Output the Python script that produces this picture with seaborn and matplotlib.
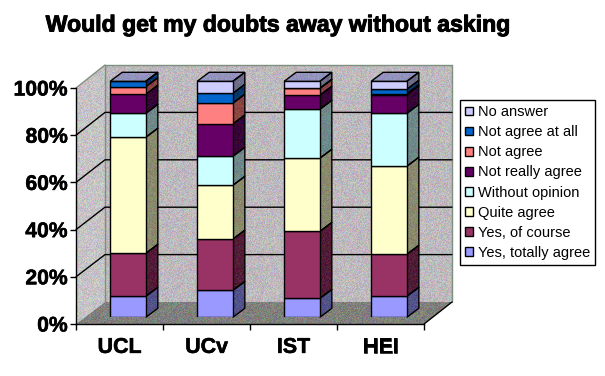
import numpy as np
import pandas as pd
import matplotlib
matplotlib.use("Agg")
import matplotlib.pyplot as plt
import matplotlib.patheffects as pe
from matplotlib.patches import Patch, Polygon
import seaborn as sns

schools = ["UCL", "UCv", "IST", "HEI"]
answers = ["Yes, totally agree", "Yes, of course", "Quite agree", "Without opinion",
           "Not really agree", "Not agree", "Not agree at all", "No answer"]
colors = ["#9999FF", "#993366", "#FFFFCC", "#CCFFFF", "#660066", "#FF8080", "#0066CC", "#CCCCFF"]

totally = [8.9, 11.4, 8.0, 8.9]
of_course = [18.2, 21.7, 28.4, 17.8]
quite = [49.2, 22.8, 31.0, 37.3]
no_opinion = [10.1, 12.3, 20.7, 22.4]
not_really = [8.1, 13.7, 6.0, 7.9]
not_agree = [3.2, 8.8, 2.9, 0.4]
not_at_all = [2.3, 4.2, 0.0, 1.9]
no_answer = [0.0, 5.1, 3.0, 3.4]
series = [totally, of_course, quite, no_opinion, not_really, not_agree, not_at_all, no_answer]

W, H = 605, 376
DX, DY = 12, 9  # depth of the bars in pixels


def box(x0, y0, x1, y1):
    return [x0 / W, 1 - y1 / H, (x1 - x0) / W, (y1 - y0) / H]


sns.set_theme(style="white")
plt.rcParams["font.family"] = ["Liberation Sans", "DejaVu Sans"]

fig = plt.figure(figsize=(W / 100, H / 100), dpi=100, facecolor="white")

# backdrop in pixel coordinates
bg = fig.add_axes([0, 0, 1, 1], zorder=0)
bg.axis("off")

# dither like the old 256 colour export
yy, xx = np.mgrid[0:H, 0:W]
speck = np.stack([np.sin(xx * a + yy * b) * 43758.5453 % 1
                  for a, b in [(12.9898, 78.233), (39.346, 11.135), (73.156, 52.235)]], axis=-1) - 0.5


def textured(ax, pts, rgb, amount=46, z=1):
    tex = np.clip(np.array(rgb, float) + speck * amount, 0, 255).astype(np.uint8)
    im = ax.imshow(tex, extent=(0, W, H, 0), interpolation="nearest", zorder=z, aspect="auto")
    poly = Polygon(pts, closed=True, transform=ax.transData, fc="none", ec="none")
    ax.add_patch(poly)
    im.set_clip_path(poly)
    ax.set_xlim(0, W)
    ax.set_ylim(H, 0)


wall = [(105, 65), (452, 65), (452, 302), (105, 302)]
side = [(76, 88), (105, 65), (105, 302), (76, 324)]
floor = [(76, 324), (105, 302), (452, 302), (424, 324)]
textured(bg, wall, (190, 186, 190))
textured(bg, side, (198, 196, 198))
textured(bg, floor, (128, 128, 124))
bg.plot([105, 105, 452, 452], [302, 65, 65, 302], color="#7f8f7f", lw=1, zorder=3)
bg.plot([76, 105], [88, 65], color="#7f8f7f", lw=1, zorder=3)
bg.plot([424, 452], [324, 302], color="black", lw=1, zorder=3)

# gridlines on the back wall and their run along the side wall
for v in range(20, 100, 20):
    y_back = 302 - v * 2.37
    y_front = 324 - v * 2.36
    bg.plot([76, 105, 452], [y_front, y_back, y_back], color="black", lw=1, zorder=3)

# front plane: axis lines, ticks and labels
front = fig.add_axes(box(76, 88, 424, 324), zorder=1)
front.patch.set_alpha(0)
front.set_xlim(-0.5, 3.5)
front.set_ylim(0, 100)
sns.despine(ax=front)
for s in ["left", "bottom"]:
    front.spines[s].set_color("black")
    front.spines[s].set_linewidth(1)
front.set_yticks(range(0, 101, 20))
front.set_yticklabels([f"{v}%" for v in range(0, 101, 20)], fontsize=15.2, fontweight="bold", color="black")
front.set_xticks(np.arange(-0.5, 4, 1))
front.set_xticklabels([])
front.set_xticks(range(4), schools, minor=True, fontsize=15.4, fontweight="bold", color="black")
front.tick_params(axis="both", which="major", length=4, width=1, color="black", left=True, bottom=True, pad=2)
front.tick_params(axis="x", which="minor", length=0, pad=10)
for t in front.get_yticklabels() + front.get_xticklabels(minor=True):
    t.set_path_effects([pe.withStroke(linewidth=0.4, foreground="black")])

# bars sit between front plane and back wall
ax = fig.add_axes(box(84.5, 81.3, 432.5, 317.3), zorder=3)
ax.patch.set_alpha(0)
bottom = np.zeros(len(schools))
for name, vals, c in zip(answers, series, colors):
    sns.barplot(data=pd.DataFrame({"school": schools, "share": vals}), x="school", y="share",
                bottom=bottom, color=c, saturation=1, width=0.41, errorbar=None,
                edgecolor="black", linewidth=1, ax=ax, zorder=4)
    bottom = bottom + np.array(vals)
ax.set_xlim(-0.5, 3.5)
ax.set_ylim(0, 100)
ax.axis("off")

# 3d faces worked out from the bars seaborn drew, on their own pixel axes
depth = fig.add_axes([0, 0, 1, 1], zorder=2)
depth.axis("off")
depth.set_xlim(0, W)
depth.set_ylim(H, 0)
top_color = np.array([148, 148, 190])
shade = 0.54
n = len(schools)
for i, bar in enumerate(ax.patches):
    x0, y0 = ax.transData.transform((bar.get_x(), bar.get_y()))
    x1, y1 = ax.transData.transform((bar.get_x() + bar.get_width(), bar.get_y() + bar.get_height()))
    y0, y1 = H - y0, H - y1
    rgb = np.array(matplotlib.colors.to_rgb(bar.get_facecolor())) * 255 * shade
    face = [(x1, y0), (x1 + DX, y0 - DY), (x1 + DX, y1 - DY), (x1, y1)]
    textured(depth, face, rgb, amount=36)
    depth.add_patch(Polygon(face, closed=True, fc="none", ec="black", lw=1, zorder=2))
    if i >= len(ax.patches) - n:
        lid = [(x0, y1), (x0 + DX, y1 - DY), (x1 + DX, y1 - DY), (x1, y1)]
        textured(depth, lid, top_color, amount=30)
        depth.add_patch(Polygon(lid, closed=True, fc="none", ec="black", lw=1, zorder=2))

handles = [Patch(fc=c, ec="black", lw=1, label=a) for a, c in zip(answers, colors)][::-1]
leg = fig.legend(handles=handles, loc="upper left", bbox_to_anchor=(460.3 / W, 1 - 100.3 / H),
                 fontsize=10.5, frameon=True, fancybox=False, framealpha=1, edgecolor="black",
                 facecolor="white", handlelength=0.55, handleheight=0.55, handletextpad=0.35,
                 labelspacing=0.42, borderpad=0.33, borderaxespad=0, labelcolor="black")
leg.get_frame().set_linewidth(1)
leg.set_zorder(5)

fig.text(277 / W, 1 - 25 / H, "Would get my doubts away without asking", ha="center", va="center",
         fontsize=16.6, fontweight="bold", color="black",
         path_effects=[pe.withStroke(linewidth=0.7, foreground="black")])

fig.savefig("out.png", dpi=100, facecolor="white")
